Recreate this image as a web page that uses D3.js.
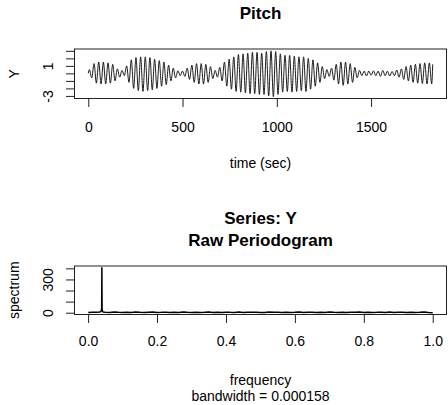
<!DOCTYPE html>
<html>
<head>
<meta charset="utf-8">
<script src="https://cdn.jsdelivr.net/npm/d3@7"></script>
<style>
  html, body { margin: 0; padding: 0; background: #fff; }
  svg { display: block; }
  text { font-family: "Liberation Sans", Arial, Helvetica, sans-serif; fill: #000; }
</style>
</head>
<body>
<svg id="chart" width="448" height="405"></svg>
<script>
// ---- Pitch record: turning points of the oscillation (one peak and one trough per cycle)
const pitchStart = 0;          // first sample time (sec)
const pitchEnd = 1827;         // last sample time (sec)
const firstPeakTime = 6;       // time of the first crest (sec)
const cyclePeriod = 24.7;      // seconds per oscillation
const pitchStartValue = 0.0;
const pitchEndValue = 1.2;
const pitchPeaks = [
  0.5, 1.3, 1.5, 1.5, 1.4, 1.2, 0.6, 0.4, 1.0, 1.8,
  2.1, 2.2, 2.2, 2.1, 1.9, 1.7, 1.5, 1.1, 0.7, 0.35,
  0.3, 0.7, 1.1, 1.3, 1.3, 1.2, 0.9, 0.4, 0.8, 1.5,
  1.9, 2.2, 2.5, 2.6, 2.7, 2.8, 2.8, 2.7, 2.9, 3.0,
  2.9, 2.6, 2.4, 2.4, 2.3, 2.2, 2.2, 2.0, 1.8, 1.4,
  0.9, 0.5, 0.7, 1.2, 1.5, 1.5, 1.3, 0.8, 0.4, 0.3,
  0.3, 0.35, 0.3, 0.4, 0.3, 0.25, 0.45, 0.6, 0.9, 1.1,
  1.2, 1.3, 1.4, 1.4
];
const pitchTroughs = [
  -0.6, -1.3, -1.4, -1.4, -1.3, -1.0, -0.5, -0.3, -1.2, -2.0,
  -2.3, -2.4, -2.3, -2.2, -2.0, -1.7, -1.5, -1.0, -0.6, -0.3,
  -0.4, -0.8, -1.2, -1.4, -1.4, -1.2, -0.7, -0.5, -1.0, -1.7,
  -2.1, -2.4, -2.5, -2.6, -2.7, -2.7, -2.8, -2.8, -3.0, -3.1,
  -2.8, -2.5, -2.4, -2.5, -2.4, -2.3, -2.4, -2.1, -1.7, -1.2,
  -0.7, -0.4, -0.9, -1.4, -1.6, -1.4, -1.2, -0.6, -0.3, -0.35,
  -0.25, -0.3, -0.4, -0.3, -0.35, -0.3, -0.5, -0.8, -1.0, -1.2,
  -1.3, -1.35, -1.4, -1.4
];
const timeTicks = [0, 500, 1000, 1500];
const pitchTicks = [-3, -2, -1, 0, 1, 2, 3];
const pitchTickLabels = ["-3", "", "", "", "1", "", ""];

// ---- Raw periodogram
const peakFreq = [0.0005, 0.0125, 0.025, 0.033, 0.0366, 0.0377, 0.0388, 0.0394, 0.03996, 0.0405, 0.0411, 0.0422, 0.0433];
const peakPower = [2, 5, 4, 6, 9, 14, 28, 40, 405, 45, 22, 12, 7];
const bandStart = 0.05, bandStep = 0.0125;   // remaining frequencies, evenly spaced to 1.0
const bandPower = [
  4, 2, 6, 3, 1, 5, 2, 7, 3, 1,
  4, 6, 2, 3, 5, 1, 4, 2, 6, 3,
  2, 5, 1, 3, 6, 2, 4, 1, 5, 3,
  2, 6, 1, 4, 3, 5, 2, 1, 6, 3,
  4, 2, 5, 1, 3, 6, 2, 4, 3, 1,
  5, 2, 6, 3, 1, 4, 2, 5, 3, 6,
  1, 4, 2, 3, 5, 1, 6, 2, 4, 3,
  1, 5, 2, 3, 6, 2, 0.5
];
const freqTicks = [0, 0.2, 0.4, 0.6, 0.8, 1.0];
const specTicks = [0, 100, 200, 300, 400];
const specTickLabels = ["0", "", "", "300", ""];

// ---- helpers
// axis range padded by 4% on each side
function padDomain([a, b]) { const p = (b - a) * 0.04; return [a - p, b + p]; }

const svg = d3.select("#chart");
svg.append("rect").attr("width", 448).attr("height", 405).attr("fill", "#fff");

const LEFT = 74.5, RIGHT = 446.5;
const TICK = 8.5;

function panel(opts) {
  const g = svg.append("g");
  const { x, y } = opts;
  const boxTop = opts.boxTop, boxBottom = opts.boxBottom;
  // plot box
  g.append("rect")
    .attr("x", LEFT).attr("y", boxTop)
    .attr("width", RIGHT - LEFT).attr("height", boxBottom - boxTop)
    .attr("fill", "none").attr("stroke", "#222").attr("stroke-width", 1);

  // x axis
  const xa = g.append("g").attr("transform", `translate(0,${boxBottom})`)
    .call(d3.axisBottom(x).tickValues(opts.xTicks).tickSize(TICK).tickFormat(opts.xFormat));
  xa.select(".domain").remove();
  xa.selectAll(".tick line").attr("stroke", "#222");
  xa.selectAll(".tick text").attr("y", null).attr("dy", null)
    .attr("transform", `translate(0,${opts.xLabelY - boxBottom})`)
    .style("font-size", "14px");
  xa.append("line")
    .attr("x1", x(opts.xTicks[0])).attr("x2", x(opts.xTicks[opts.xTicks.length - 1]))
    .attr("stroke", "#222");

  // y axis with labels rotated parallel to the axis
  const ya = g.append("g").attr("transform", `translate(${LEFT},0)`)
    .call(d3.axisLeft(y).tickValues(opts.yTicks).tickSize(TICK)
      .tickFormat((d, i) => opts.yLabels[i]));
  ya.select(".domain").remove();
  ya.selectAll(".tick line").attr("stroke", "#222");
  ya.selectAll(".tick text").attr("x", null).attr("dy", null)
    .attr("text-anchor", "middle")
    .attr("transform", `translate(${52.5 - LEFT},0) rotate(-90)`)
    .style("font-size", "14px");
  ya.append("line")
    .attr("y1", y(opts.yTicks[0])).attr("y2", y(opts.yTicks[opts.yTicks.length - 1]))
    .attr("stroke", "#222");

  // y title
  g.append("text")
    .attr("transform", `translate(18.5,${(boxTop + boxBottom) / 2}) rotate(-90)`)
    .attr("text-anchor", "middle").style("font-size", "14px")
    .text(opts.yTitle);
  return g;
}

// ---- top panel: pitch series
const pitchPoints = [{ t: pitchStart, v: pitchStartValue }];
pitchPeaks.forEach((p, k) => {
  const tp = firstPeakTime + k * cyclePeriod;
  pitchPoints.push({ t: tp, v: p });
  pitchPoints.push({ t: tp + cyclePeriod / 2, v: pitchTroughs[k] });
});
pitchPoints.push({ t: pitchEnd, v: pitchEndValue });

const xTime = d3.scaleLinear().domain(padDomain([pitchStart, pitchEnd])).range([LEFT, RIGHT]);
const yPitch = d3.scaleLinear().domain(padDomain(d3.extent(pitchPoints, d => d.v))).range([98.5, 49]);

const pitchPanel = panel({
  x: xTime, y: yPitch, boxTop: 49, boxBottom: 98.5,
  xTicks: timeTicks, xFormat: d => String(d), xLabelY: 131.5,
  yTicks: pitchTicks, yLabels: pitchTickLabels, yTitle: "Y"
});
pitchPanel.append("path")
  .datum(pitchPoints)
  .attr("fill", "none").attr("stroke", "#111").attr("stroke-width", 0.95)
  .attr("stroke-linejoin", "round")
  .attr("d", d3.line().x(d => xTime(d.t)).y(d => yPitch(d.v)).curve(d3.curveMonotoneX));

svg.append("text").attr("x", (LEFT + RIGHT) / 2).attr("y", 18.5)
  .attr("text-anchor", "middle").style("font-size", "17px").style("font-weight", "bold")
  .text("Pitch");
svg.append("text").attr("x", (LEFT + RIGHT) / 2).attr("y", 167.5)
  .attr("text-anchor", "middle").style("font-size", "14px")
  .text("time (sec)");

// ---- bottom panel: periodogram
const specPoints = peakFreq.map((f, i) => ({ f, s: peakPower[i] }))
  .concat(bandPower.map((s, i) => ({ f: Math.min(1, bandStart + i * bandStep), s })))
  .sort((a, b) => a.f - b.f);

const xFreq = d3.scaleLinear().domain(padDomain(d3.extent(specPoints, d => d.f))).range([LEFT, RIGHT]);
const ySpec = d3.scaleLinear().domain(padDomain([0, d3.max(specPoints, d => d.s)])).range([314.5, 266]);

const specPanel = panel({
  x: xFreq, y: ySpec, boxTop: 266, boxBottom: 314.5,
  xTicks: freqTicks, xFormat: d3.format(".1f"), xLabelY: 346,
  yTicks: specTicks, yLabels: specTickLabels, yTitle: "spectrum"
});
specPanel.append("path")
  .datum(specPoints)
  .attr("fill", "none").attr("stroke", "#000").attr("stroke-width", 1.5)
  .attr("stroke-linejoin", "round")
  .attr("d", d3.line().x(d => xFreq(d.f)).y(d => ySpec(d.s)));

svg.append("text").attr("x", (LEFT + RIGHT) / 2).attr("y", 224)
  .attr("text-anchor", "middle").style("font-size", "17px").style("font-weight", "bold")
  .text("Series: Y");
svg.append("text").attr("x", (LEFT + RIGHT) / 2).attr("y", 245.5)
  .attr("text-anchor", "middle").style("font-size", "17px").style("font-weight", "bold")
  .text("Raw Periodogram");
svg.append("text").attr("x", (LEFT + RIGHT) / 2).attr("y", 384.5)
  .attr("text-anchor", "middle").style("font-size", "14px")
  .text("frequency");
svg.append("text").attr("x", (LEFT + RIGHT) / 2).attr("y", 401)
  .attr("text-anchor", "middle").style("font-size", "14px")
  .text("bandwidth = 0.000158");
</script>
</body>
</html>
